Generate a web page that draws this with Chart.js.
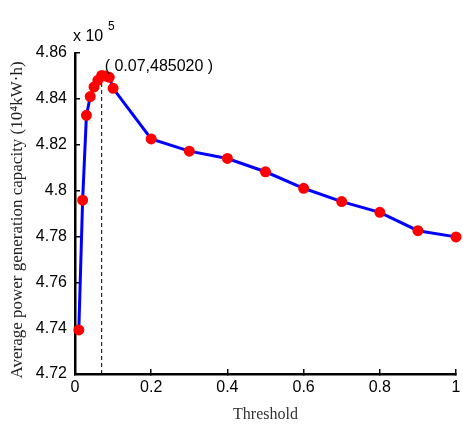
<!DOCTYPE html>
<html>
<head>
<meta charset="utf-8">
<script src="https://cdn.jsdelivr.net/npm/chart.js@4"></script>
<style>
  body { margin: 0; background: #fff; }
</style>
</head>
<body>
<canvas id="grafico" width="463" height="424"></canvas>
<script>
// dati (capacita in unita di 10^5)
const soglie = [0.01, 0.02, 0.03, 0.04, 0.05, 0.06, 0.07, 0.08, 0.09, 0.1,
  0.2, 0.3, 0.4, 0.5, 0.6, 0.7, 0.8, 0.9, 1.0];
const capacita = [4.7392, 4.7958, 4.8328, 4.8410, 4.8452, 4.8481, 4.8502, 4.8500, 4.8494, 4.8446,
  4.8225, 4.8172, 4.8140, 4.8082, 4.8010, 4.7952, 4.7905, 4.7825, 4.7798];

// tick degli assi
const tickX = [0, 0.2, 0.4, 0.6, 0.8, 1];
const tickY = [4.72, 4.74, 4.76, 4.78, 4.8, 4.82, 4.84, 4.86];

// punto massimo evidenziato
const sogliaMax = 0.07;
const capacitaMax = 4.8502;
const etichettaMax = "( 0.07,485020 )";

const titoloY = "Average power generation capacity (10\u2074kW\u00b7h)";
const titoloX = "Threshold";

const sans = "'Liberation Sans', Arial, sans-serif";
const serif = "'Liberation Serif', 'Times New Roman', serif";

// testi extra: etichetta del massimo, fattore x 10^5 e titolo asse y
const testiExtra = {
  id: "testiExtra",
  afterDraw(chart) {
    const ctx = chart.ctx;
    const sx = chart.scales.x;
    const sy = chart.scales.y;
    ctx.save();
    ctx.fillStyle = "#000";
    ctx.textBaseline = "middle";
    ctx.textAlign = "left";
    ctx.font = "16px " + sans;
    ctx.fillText(etichettaMax, sx.getPixelForValue(sogliaMax) + 3, sy.getPixelForValue(capacitaMax) - 9);

    // fattore di scala in alto a sinistra
    ctx.fillText("x 10", chart.chartArea.left - 2, chart.chartArea.top - 16);
    ctx.font = "12px " + sans;
    ctx.fillText("5", chart.chartArea.left + 33, chart.chartArea.top - 26);

    // titolo asse y ruotato
    ctx.font = "17px " + serif;
    ctx.fillStyle = "#222";
    ctx.translate(18, 220);
    ctx.rotate(-Math.PI / 2);
    ctx.textAlign = "center";
    ctx.fillText(titoloY, 0, 0);
    ctx.restore();
  }
};

const ctx = document.getElementById("grafico").getContext("2d");

new Chart(ctx, {
  type: "line",
  data: {
    datasets: [
      {
        label: "capacita",
        data: soglie.map((s, i) => ({ x: s, y: capacita[i] })),
        borderColor: "#0000ff",
        borderWidth: 3,
        pointBackgroundColor: "#ff0000",
        pointBorderColor: "#ff0000",
        pointRadius: 4,
        pointStyle: "circle",
        tension: 0,
        clip: false,
        order: 1,
      },
      {
        label: "massimo",
        data: [{ x: sogliaMax, y: tickY[0] }, { x: sogliaMax, y: capacitaMax }],
        borderColor: "#000",
        borderWidth: 1,
        borderDash: [4, 3],
        pointRadius: 0,
        order: 2,
      },
    ],
  },
  options: {
    responsive: false,
    animation: false,
    layout: { padding: { top: 53, right: 7, left: 0, bottom: 0 } },
    plugins: { legend: { display: false }, tooltip: { enabled: false } },
    scales: {
      x: {
        type: "linear",
        min: 0,
        max: 1,
        afterBuildTicks: (s) => { s.ticks = tickX.map((v) => ({ value: v })); },
        afterFit: (s) => { s.height = 50; s.paddingLeft = 0; s.paddingRight = 0; },
        border: { color: "#000", width: 2.5 },
        grid: { drawOnChartArea: false, drawTicks: true, tickLength: -5, color: "#000", lineWidth: 1.5 },
        ticks: { color: "#000", font: { family: sans, size: 16 }, padding: 9, callback: (v) => String(v) },
        title: { display: true, text: titoloX, color: "#333", font: { family: serif, size: 16 }, padding: { top: 0, bottom: 0 } },
      },
      y: {
        type: "linear",
        min: 4.72,
        max: 4.86,
        afterBuildTicks: (s) => { s.ticks = tickY.map((v) => ({ value: v })); },
        afterFit: (s) => { s.width = 75; s.paddingTop = 0; s.paddingBottom = 0; },
        border: { color: "#000", width: 2.5 },
        grid: { drawOnChartArea: false, drawTicks: true, tickLength: -5, color: "#000", lineWidth: 1.5 },
        ticks: { color: "#000", font: { family: sans, size: 16 }, padding: 13, callback: (v) => String(Number(v.toFixed(2))) },
      },
    },
  },
  plugins: [testiExtra],
});
</script>
</body>
</html>
